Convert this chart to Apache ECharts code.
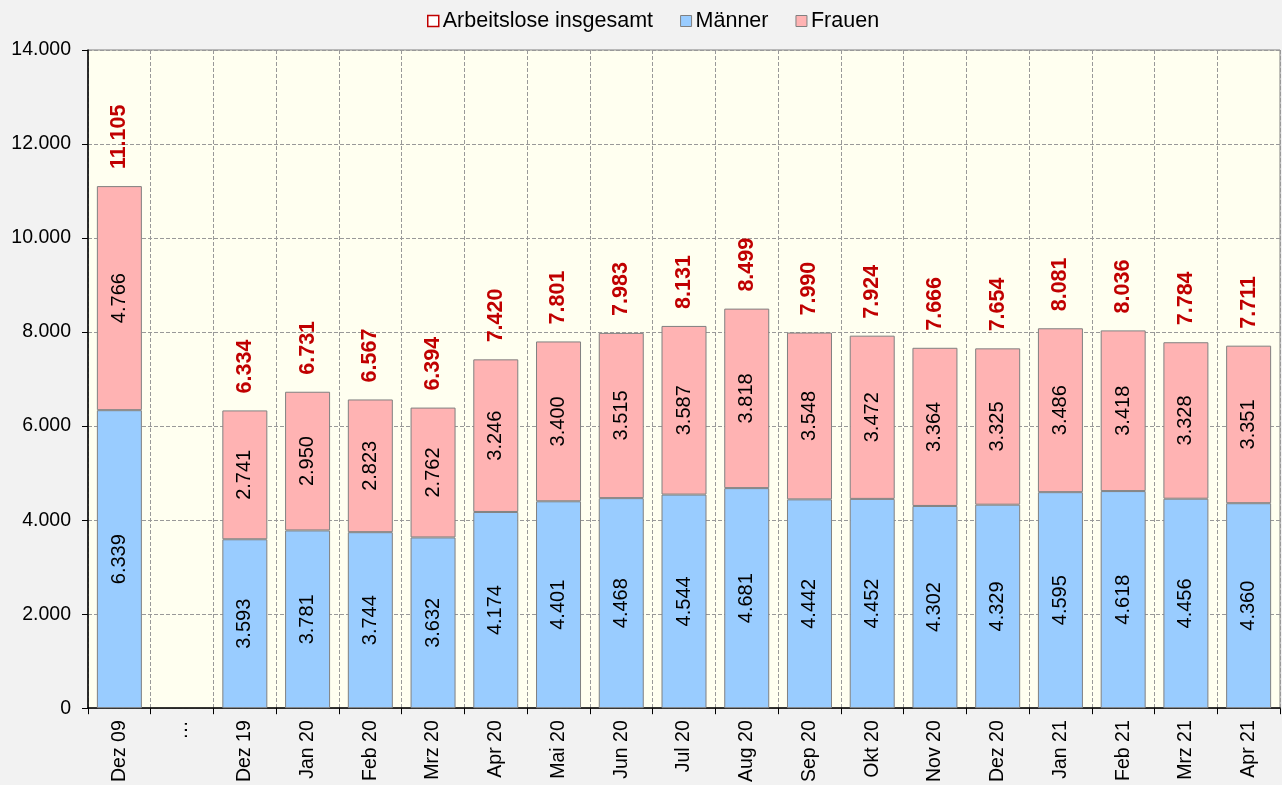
<!DOCTYPE html>
<html><head><meta charset="utf-8">
<script src="https://cdn.jsdelivr.net/npm/echarts@6/dist/echarts.min.js"></script>
<style>html,body{margin:0;padding:0;background:#f2f2f2;}#c{width:1282px;height:785px;}</style>
</head><body><div id="c"></div>
<script>
const categories = ['Dez 09','…','Dez 19','Jan 20','Feb 20','Mrz 20','Apr 20','Mai 20','Jun 20','Jul 20','Aug 20','Sep 20','Okt 20','Nov 20','Dez 20','Jan 21','Feb 21','Mrz 21','Apr 21'];
const maenner = [6339,null,3593,3781,3744,3632,4174,4401,4468,4544,4681,4442,4452,4302,4329,4595,4618,4456,4360];
const frauen  = [4766,null,2741,2950,2823,2762,3246,3400,3515,3587,3818,3548,3472,3364,3325,3486,3418,3328,3351];
const insgesamt = [11105,null,6334,6731,6567,6394,7420,7801,7983,8131,8499,7990,7924,7666,7654,8081,8036,7784,7711];
const yTicks = [0,2000,4000,6000,8000,10000,12000,14000];

function fmt(v){ return String(v).replace(/\B(?=(\d{3})+(?!\d))/g,'.'); }
const FONT = '"Liberation Sans", Arial, sans-serif';
const chart = echarts.init(document.getElementById('c'));
const innerLabel = {show:true, rotate:90, position:'inside', color:'#000', fontSize:20, fontFamily:FONT,
  formatter:p=>p.value==null?'':fmt(p.value)};
chart.setOption({
  backgroundColor:'#f2f2f2',
  animation:false,
  legend:{top:5, left:422, itemWidth:11, itemHeight:11, itemGap:27,
    textStyle:{fontSize:21.5, fontFamily:FONT, color:'#000', padding:[0,0,0,-1]},
    data:[
      {name:'Arbeitslose insgesamt', icon:'rect', itemStyle:{color:'#ffffff', borderColor:'#c00000', borderWidth:1.5}},
      {name:'Männer', icon:'rect', itemStyle:{color:'#99ccff', borderColor:'#808080', borderWidth:1}},
      {name:'Frauen', icon:'rect', itemStyle:{color:'#ffb3b3', borderColor:'#808080', borderWidth:1}}
    ]},
  grid:{left:88, right:2, top:50, bottom:76, show:true, backgroundColor:'#fffff0', borderColor:'#808080', borderWidth:1},
  xAxis:{type:'category', data:categories,
    axisLine:{lineStyle:{color:'#000', width:1.5}},
    axisTick:{show:true, length:6, lineStyle:{color:'#000'}},
    axisLabel:{rotate:90, fontSize:19.5, fontFamily:FONT, color:'#000', margin:12, interval:0},
    splitLine:{show:true, lineStyle:{color:'#999', type:'dashed', width:1}}},
  yAxis:{type:'value', min:yTicks[0], max:yTicks[yTicks.length-1], interval:2000,
    axisLine:{show:true, lineStyle:{color:'#000', width:1.5}},
    axisTick:{show:true, length:6, lineStyle:{color:'#000'}},
    axisLabel:{fontSize:19.5, fontFamily:FONT, color:'#000', margin:17, formatter:v=>fmt(v)},
    splitLine:{show:true, lineStyle:{color:'#999', type:'dashed', width:1}}},
  series:[
    {name:'Männer', type:'bar', stack:'a', data:maenner, barWidth:45, barGap:'-100%',
      itemStyle:{color:'#99ccff', borderColor:'#808080', borderWidth:1}, label:innerLabel},
    {name:'Frauen', type:'bar', stack:'a', data:frauen, barWidth:45, barGap:'-100%',
      itemStyle:{color:'#ffb3b3', borderColor:'#808080', borderWidth:1}, label:innerLabel},
    {name:'Arbeitslose insgesamt', type:'bar', data:insgesamt, barWidth:45, barGap:'-100%', z:1,
      itemStyle:{color:'rgba(0,0,0,0)', borderWidth:0},
      label:{show:true, position:'top', rotate:90, align:'left', verticalAlign:'middle', distance:17,
        color:'#c00000', fontWeight:'bold', fontSize:21.5, fontFamily:FONT,
        formatter:p=>p.value==null?'':fmt(p.value)}}
  ]
});
</script></body></html>
